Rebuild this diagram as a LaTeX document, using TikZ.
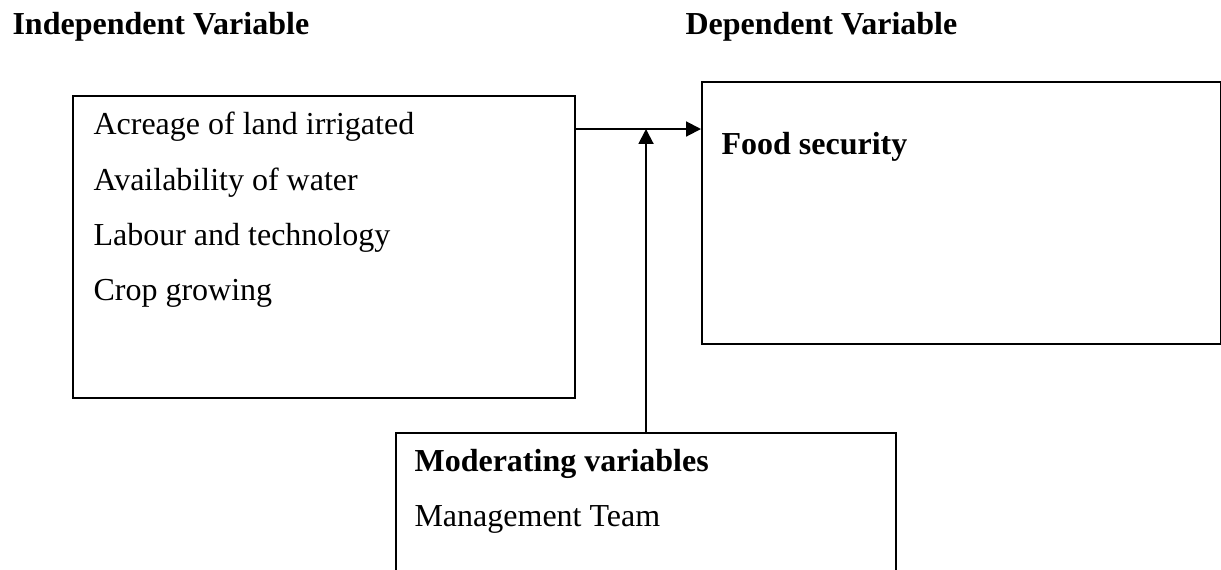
\documentclass[12pt,tikz,border=0pt]{standalone}
\usepackage{fontspec}
\setmainfont{Liberation Serif}
\usetikzlibrary{arrows.meta}
\tikzset{
	varbox/.style={draw, line width=0.75pt, anchor=north west, inner sep=0pt},
	label/.style={anchor=base west, inner sep=0pt, font=\fontsize{12}{14}\selectfont},
	head/.style={label, font=\fontsize{12}{14}\selectfont\bfseries},
	arr/.style={line width=0.75pt, -{Triangle[length=5.6pt, width=5.6pt]}}
}

\begin{document}
\begin{tikzpicture}[x=0.375pt, y=-0.375pt]
			%%%%% START %%%%%
			\useasboundingbox (0, 0) rectangle (1221, 569);
			\clip (0, 0) rectangle (1221, 569);
			
			\node[head] (indephead) at (12, 34) {Independent Variable};
			\node[head] (dephead) at (685, 34) {Dependent Variable};
			
			\node[varbox, minimum width=188.25pt, minimum height=113.25pt] (indep) at (72, 95) {};
			\node[label] (acreage) at (93, 134) {Acreage of land irrigated};
			\node[label] (water) at (93, 190) {Availability of water};
			\node[label] (labour) at (93, 245) {Labour and technology};
			\node[label] (crop) at (93, 300) {Crop growing};
			
			\node[varbox, minimum width=194.6pt, minimum height=98.25pt] (dep) at (701, 81) {};
			\node[head] (food) at (721, 154) {Food security};
			
			\node[varbox, minimum width=187.5pt, minimum height=75pt] (moder) at (395, 432) {};
			\node[head] (moderhead) at (414, 471) {Moderating variables};
			\node[label] (team) at (414, 526) {Management Team};
			
			\coordinate (junction) at (646, 129);
			\draw[arr] (indep.east |- junction) -- (dep.west |- junction);
			\draw[arr] (moder.north) -- (moder.north |- junction);
			%%%%% END %%%%%
\end{tikzpicture}
\end{document}
